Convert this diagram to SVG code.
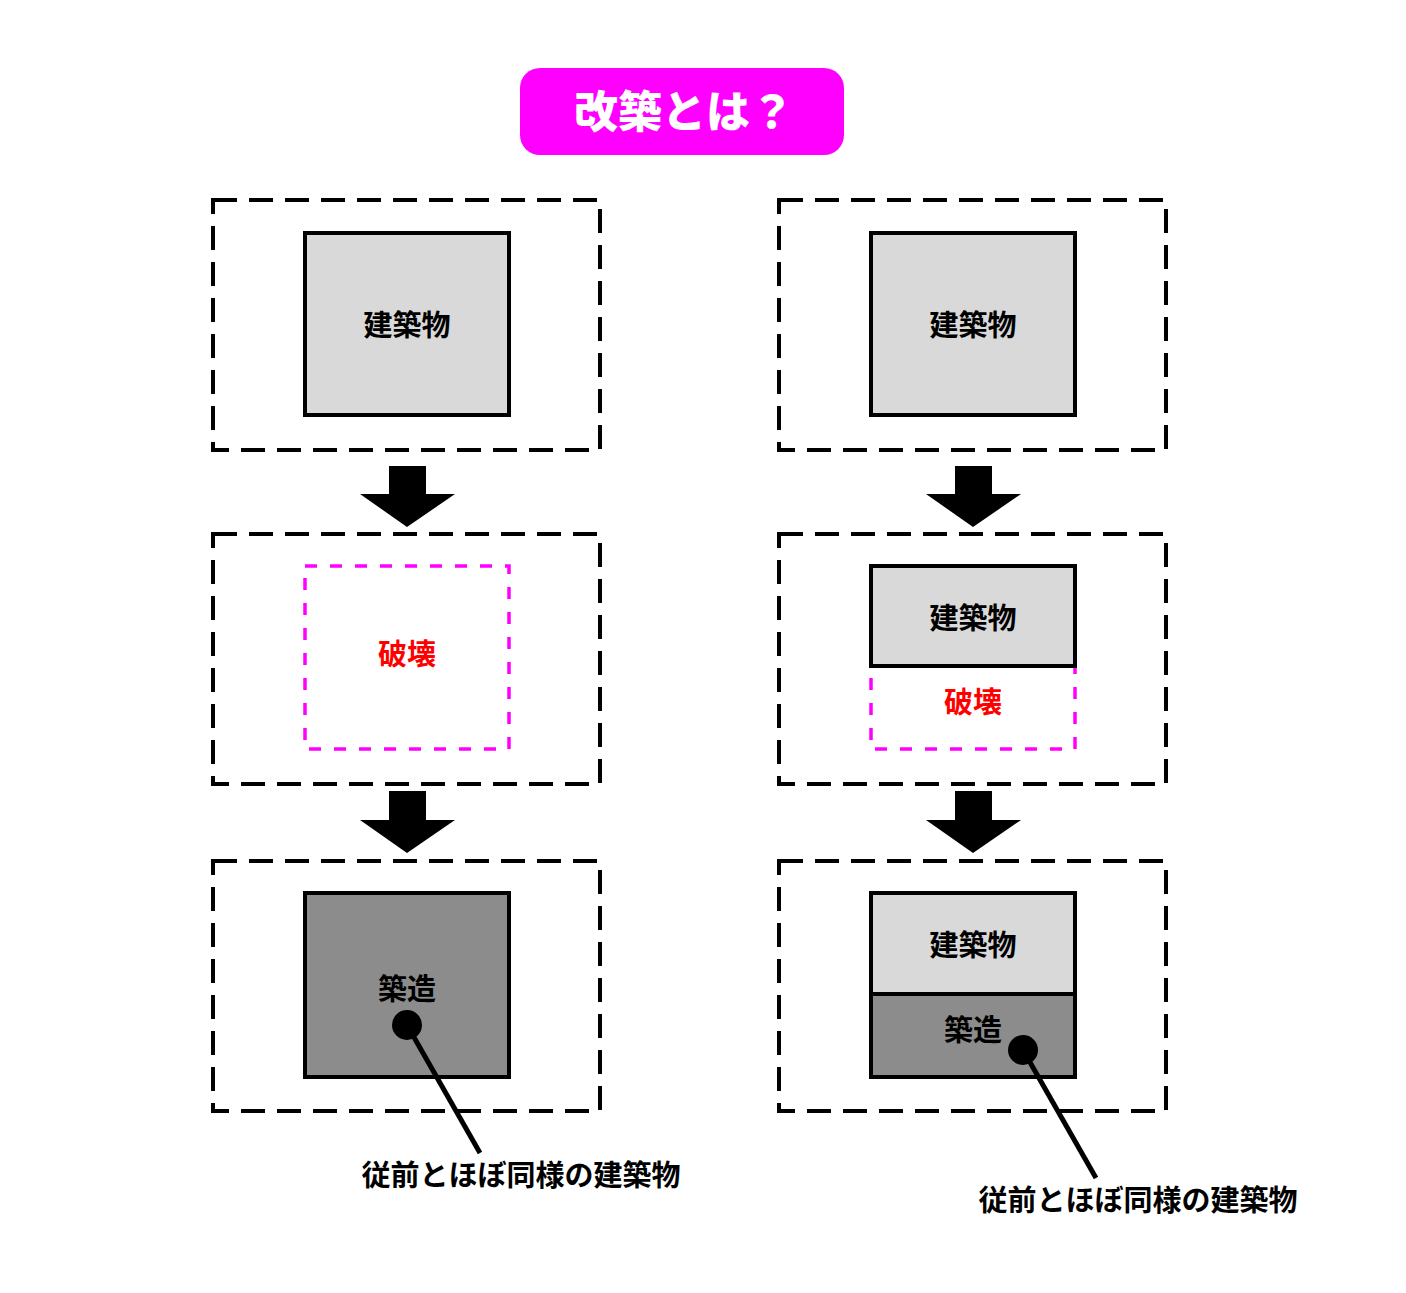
<svg xmlns="http://www.w3.org/2000/svg" width="1406" height="1293" viewBox="0 0 1406 1293">
<style>
.frame{fill:none;stroke:#000;stroke-width:4;stroke-dasharray:24 12}
.bld{fill:#d9d9d9;stroke:#000;stroke-width:4}
.new{fill:#8c8c8c;stroke:#000;stroke-width:4}
.demo{fill:none;stroke:#ff00ff;stroke-width:3.5;stroke-dasharray:12 13}
.t{font-family:"Noto Sans CJK JP","Noto Sans",sans-serif;font-size:29px;font-weight:bold;text-anchor:middle;fill:#000}
.red{fill:#ff0000}
.title{font-family:"Noto Sans CJK JP","Noto Sans",sans-serif;font-size:44px;font-weight:900;text-anchor:middle;fill:#fff}
.arrow{fill:#000}
.lead{stroke:#000;stroke-width:5;fill:none}
</style>
<rect width="1406" height="1293" fill="#fff"/>
<g id="title">
<rect x="520" y="68" width="324" height="87" rx="20" fill="#ff00ff"/>
<text class="title" x="684" y="128">改築とは？</text>
</g>
<g id="left-before">
<rect class="frame" x="213" y="200" width="387" height="250"/>
<rect class="bld" x="305" y="233" width="204" height="182"/>
<text class="t" x="407" y="336">建築物</text>
</g>
<g id="left-demolish">
<rect class="frame" x="213" y="534" width="387" height="250"/>
<rect class="demo" x="305" y="566" width="204" height="183"/>
<text class="t red" x="407" y="665">破壊</text>
</g>
<g id="left-after">
<rect class="frame" x="213" y="861" width="387" height="250"/>
<rect class="new" x="305" y="893" width="204" height="184"/>
<text class="t" x="407" y="1000">築造</text>
</g>
<g id="right-before">
<rect class="frame" x="779" y="200" width="387" height="250"/>
<rect class="bld" x="871" y="233" width="204" height="182"/>
<text class="t" x="973" y="336">建築物</text>
</g>
<g id="right-demolish">
<rect class="frame" x="779" y="534" width="387" height="250"/>
<rect class="demo" x="871" y="666" width="204" height="83"/>
<rect class="bld" x="871" y="566" width="204" height="100"/>
<text class="t" x="973" y="629">建築物</text>
<text class="t red" x="973" y="713">破壊</text>
</g>
<g id="right-after">
<rect class="frame" x="779" y="861" width="387" height="250"/>
<rect class="bld" x="871" y="893" width="204" height="101"/>
<rect class="new" x="871" y="994" width="204" height="83"/>
<text class="t" x="973" y="956">建築物</text>
<text class="t" x="973" y="1041">築造</text>
</g>
<g id="connectors">
<polygon class="arrow" points="389,466 426,466 426,494 455,494 407,527 360,494 389,494"/>
<polygon class="arrow" points="389,791 426,791 426,820 455,820 407,853 360,820 389,820"/>
<polygon class="arrow" points="955,466 992,466 992,494 1021,494 973,527 926,494 955,494"/>
<polygon class="arrow" points="955,791 992,791 992,820 1021,820 973,853 926,820 955,820"/>
<circle cx="407" cy="1025" r="15" fill="#000"/>
<line class="lead" x1="407" y1="1025" x2="480" y2="1153"/>
<circle cx="1023" cy="1050" r="15" fill="#000"/>
<line class="lead" x1="1023" y1="1050" x2="1096" y2="1178"/>
</g>
<g id="labels">
<text class="t" x="521" y="1186">従前とほぼ同様の建築物</text>
<text class="t" x="1138" y="1211">従前とほぼ同様の建築物</text>
</g>
</svg>
